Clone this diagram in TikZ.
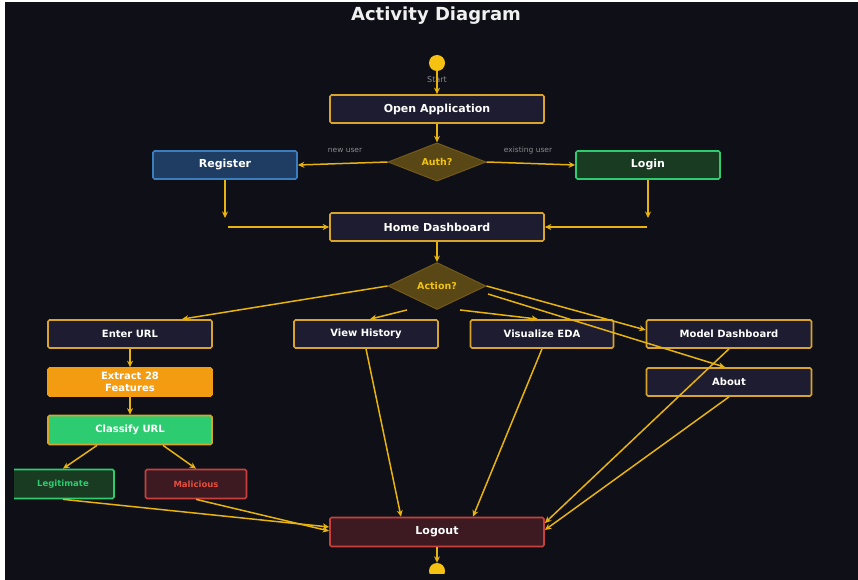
\documentclass[tikz,border=0pt]{standalone}
\usepackage{fontspec}
\setmainfont{DejaVu Sans}
\usetikzlibrary{arrows.meta,shapes.geometric}
\definecolor{bgdark}{HTML}{0E0F17}
\definecolor{boxnavy}{HTML}{1D1C30}
\definecolor{edgegold}{HTML}{D8A52A}
\definecolor{arrowgold}{HTML}{E8B30F}
\definecolor{startgold}{HTML}{F5C211}
\definecolor{choicefill}{HTML}{5A4716}
\definecolor{choiceedge}{HTML}{73591A}
\definecolor{choicetext}{HTML}{F1C40F}
\definecolor{regfill}{HTML}{1F3D63}
\definecolor{regedge}{HTML}{3A7EC0}
\definecolor{okfill}{HTML}{193B21}
\definecolor{okedge}{HTML}{2ECC71}
\definecolor{badfill}{HTML}{3D1A22}
\definecolor{badedge}{HTML}{C8403C}
\definecolor{badtext}{HTML}{E74C3C}
\definecolor{extractfill}{HTML}{F39C12}
\definecolor{notegray}{HTML}{8C8C8C}

\begin{document}
\begin{tikzpicture}[x=1pt,y=-1pt,
	box/.style={draw=edgegold, fill=boxnavy, line width=1.7pt, rounded corners=1.5pt, minimum height=28, inner sep=0pt, align=center, text=white, font=\bfseries\fontsize{10}{11.5}\selectfont},
	bigbox/.style={box, font=\bfseries\fontsize{11}{13}\selectfont},
	result/.style={box, minimum height=29, font=\bfseries\fontsize{8.5}{10}\selectfont},
	choice/.style={diamond, draw=choiceedge, fill=choicefill, line width=1pt, inner sep=0pt, minimum width=98, minimum height=37, text=choicetext, font=\bfseries\fontsize{9.5}{11}\selectfont},
	flow/.style={draw=arrowgold, line width=1.5pt, -{Stealth[length=6.5pt,width=6pt]}},
	plain/.style={draw=arrowgold, line width=1.5pt},
	dot/.style={circle, fill=startgold, minimum size=16, inner sep=0pt},
	note/.style={text=notegray, font=\fontsize{7.5}{9}\selectfont}]

	\useasboundingbox (0,0) rectangle (858,580);
	\fill[white] (0,0) rectangle (858,580);
	\fill[bgdark] (5,2) rectangle (858,580);

	\node[text=white!94!black, font=\bfseries\fontsize{18}{20}\selectfont] (title) at (436,16) {Activity Diagram};

	\begin{scope}
	\clip (14,2) rectangle (858,573);

	\node[dot] (start) at (437,63) {};
	\node[note, font=\fontsize{8}{9}\selectfont] (startlabel) at (437,80) {Start};
	\node[bigbox, minimum width=214] (open) at (437,109) {Open Application};
	\node[choice] (auth) at (437,162) {Auth?};
	\node[bigbox, minimum width=144, fill=regfill, draw=regedge] (register) at (225,165) {Register};
	\node[bigbox, minimum width=144, fill=okfill, draw=okedge] (login) at (648,165) {Login};
	\node[note] (newuser) at (345,150) {new user};
	\node[note] (olduser) at (528,150) {existing user};
	\node[bigbox, minimum width=214] (home) at (437,227) {Home Dashboard};
	\node[choice, minimum height=36] (action) at (437,286) {Action?};

	\node[box, minimum width=164] (enter) at (130,334) {Enter URL};
	\node[box, minimum width=144] (view) at (366,334) {View History};
	\node[box, minimum width=143] (eda) at (542,334) {Visualize EDA};
	\node[box, minimum width=165] (model) at (729,334) {Model Dashboard};
	\node[box, minimum width=165] (about) at (729,382) {About};
	\node[box, minimum width=164, fill=extractfill, draw=extractfill!90!edgegold] (extract) at (130,382) {Extract 28\\Features};
	\node[box, minimum width=164, minimum height=29, fill=okedge] (classify) at (130,430) {Classify URL};
	\node[result, minimum width=102, fill=okfill, draw=okedge, text=okedge] (legit) at (63,484) {Legitimate};
	\node[result, minimum width=101, fill=badfill, draw=badedge, text=badtext] (malic) at (196,484) {Malicious};
	\node[bigbox, minimum width=214, minimum height=29, fill=badfill, draw=badedge] (logout) at (437,532) {Logout};
	\node[dot] (finish) at (437,571) {};

	\coordinate (regdrop) at (225,218);
	\coordinate (regfeed) at (228,227);
	\coordinate (logdrop) at (648,218);
	\coordinate (logfeed) at (647,227);

	\draw[flow] (start) -- (open);
	\draw[flow] (open) -- (auth);
	\draw[flow] (auth.west) -- (register.east);
	\draw[flow] (auth.east) -- (login.west);
	\draw[flow] (register) -- (regdrop);
	\draw[flow] (login) -- (logdrop);
	\draw[flow] (regfeed) -- (home);
	\draw[flow] (logfeed) -- (home);
	\draw[flow] (home) -- (action);

	\draw[flow] (action.west) -- ([xshift=52pt]enter.north);
	\draw[flow] ([xshift=-30pt]action.south) -- ([xshift=4pt]view.north);
	\draw[flow] ([xshift=23pt]action.south) -- ([xshift=-4pt]eda.north);
	\draw[flow] (action.east) -- ([yshift=4pt]model.west);
	\draw[flow] ([xshift=51pt,yshift=-8pt]action.center) -- ([xshift=-4pt]about.north);

	\draw[flow] (enter) -- (extract);
	\draw[flow] (extract) -- (classify);
	\draw[flow] ([xshift=-33pt]classify.south) -- (legit.north);
	\draw[flow] ([xshift=33pt]classify.south) -- (malic.north);

	\draw[flow] (legit.south) -- ([yshift=5pt]logout.west);
	\draw[flow] (malic.south) -- ([yshift=1pt]logout.west);
	\draw[flow] (view.south) -- ([xshift=-36pt]logout.north);
	\draw[flow] (eda.south) -- ([xshift=36pt]logout.north);
	\draw[flow] (model.south) -- ([yshift=9pt]logout.east);
	\draw[flow] (about.south) -- ([yshift=2pt]logout.east);
	\draw[flow] (logout) -- (finish);
	\end{scope}
\end{tikzpicture}
\end{document}
